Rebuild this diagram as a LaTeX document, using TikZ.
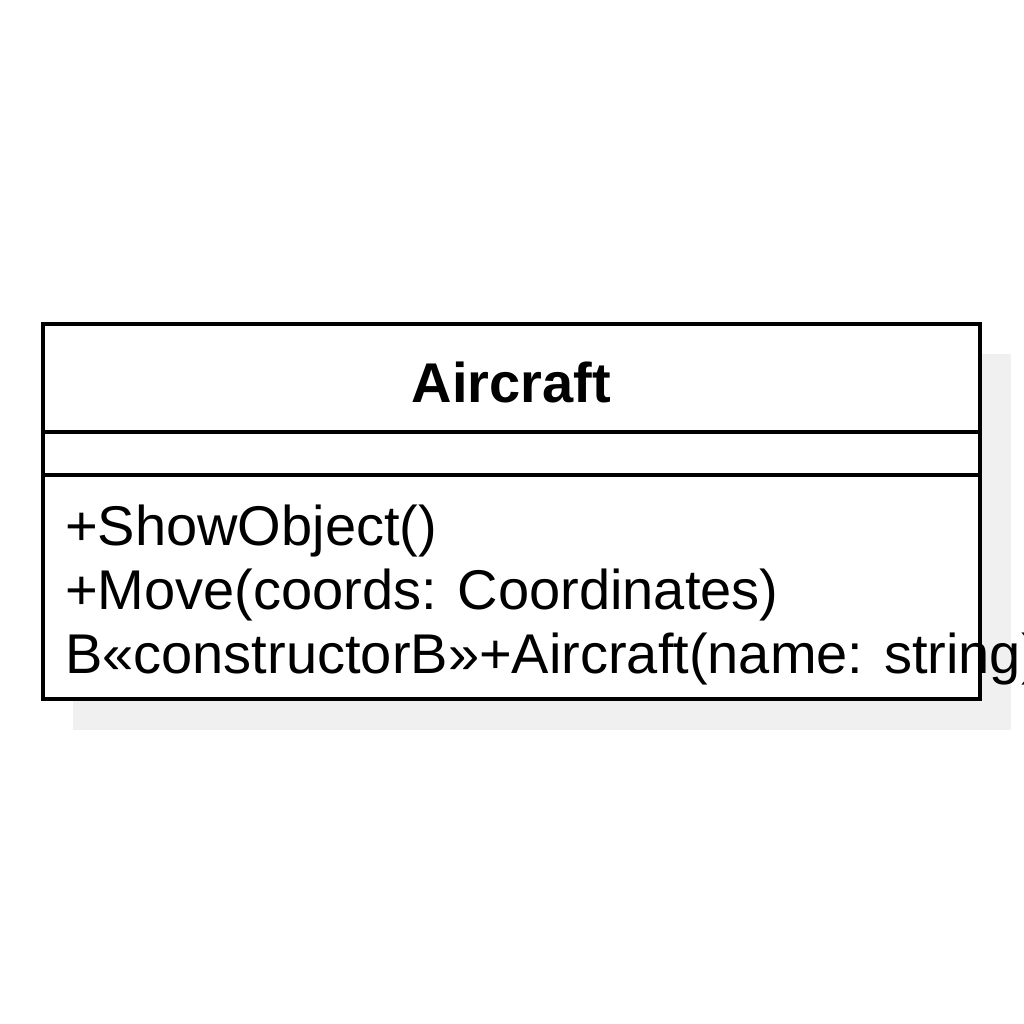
\documentclass[tikz,border=0pt]{standalone}
\usepackage{fontspec}
\setmainfont{Liberation Sans}
\definecolor{shadowgray}{HTML}{F0F0F0}
\tikzset{
  umlbox/.style={draw=black, line width=4pt, fill=white},
  shadowbox/.style={fill=shadowgray, draw=none},
  divider/.style={draw=black, line width=4pt},
  titletext/.style={inner sep=0pt, font=\fontsize{56}{64}\selectfont\bfseries},
  methodtext/.style={inner sep=0pt, anchor=base west, font=\fontsize{56}{64}\selectfont},
}
\begin{document}
\begin{tikzpicture}[x=1pt,y=-1pt]
\useasboundingbox (0,0) rectangle (1024,1024);
\clip (0,0) rectangle (1024,1024);
\fill[white] (0,0) rectangle (1024,1024);
\path[shadowbox] (73,354) rectangle (1011,730);
\path[umlbox] (43.3,324) rectangle (980,699);
\coordinate (hl) at (43.3,431.7);
\coordinate (hr) at (980,431.7);
\coordinate (al) at (43.3,475);
\coordinate (ar) at (980,475);
\draw[divider] (hl) -- (hr);
\draw[divider] (al) -- (ar);
\node[titletext, anchor=base] (title) at (511.5,402) {Aircraft};
\node[methodtext] (m1) at (65,545) {+ShowObject()};
\node[methodtext] (m2) at (65,609) {+Move(coords: Coordinates)};
\node[methodtext] (m3) at (65,673) {B«constructorB»+Aircraft(name: string)};
\end{tikzpicture}
\end{document}
